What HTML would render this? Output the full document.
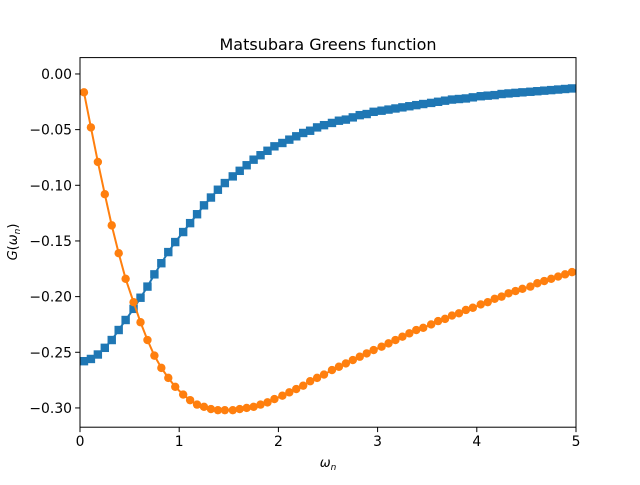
<!DOCTYPE html>
<html><head><meta charset="utf-8"><style>
body{margin:0;background:#fff}
svg text{font-family:"DejaVu Sans","Liberation Sans",sans-serif;fill:#000}
</style></head><body>
<svg id="chart" width="640" height="480" xmlns="http://www.w3.org/2000/svg">
<rect width="640" height="480" fill="#fff"/>
<text x="328" y="50" font-size="16" text-anchor="middle">Matsubara Greens function</text>
<g id="plot"></g>
<g id="axes"></g>
<text x="328" y="467" font-size="13" text-anchor="middle" font-style="italic">ω<tspan font-size="9" dy="3">n</tspan></text>
<text transform="translate(17,242) rotate(-90)" font-size="13" text-anchor="middle"><tspan font-style="italic">G</tspan>(<tspan font-style="italic">ω</tspan><tspan font-size="9" dy="3" font-style="italic">n</tspan><tspan dy="-3">)</tspan></text>
</svg>
<script>
const omega=[0.04,0.11,0.18,0.25,0.32,0.39,0.46,0.54,0.61,0.68,0.75,0.82,0.89,0.96,1.04,1.11,1.18,1.25,1.32,1.39,1.46,1.54,1.61,1.68,1.75,1.82,1.89,1.96,2.04,2.11,2.18,2.25,2.32,2.39,2.46,2.54,2.61,2.68,2.75,2.82,2.89,2.96,3.04,3.11,3.18,3.25,3.32,3.39,3.46,3.54,3.61,3.68,3.75,3.82,3.89,3.96,4.04,4.11,4.18,4.25,4.32,4.39,4.46,4.54,4.61,4.68,4.75,4.82,4.89,4.96];
const realPart=[-0.258,-0.256,-0.252,-0.246,-0.239,-0.230,-0.221,-0.211,-0.201,-0.191,-0.180,-0.170,-0.160,-0.151,-0.142,-0.134,-0.126,-0.118,-0.111,-0.104,-0.098,-0.092,-0.087,-0.082,-0.077,-0.073,-0.069,-0.065,-0.062,-0.059,-0.056,-0.053,-0.051,-0.048,-0.046,-0.044,-0.042,-0.041,-0.039,-0.037,-0.036,-0.034,-0.033,-0.032,-0.031,-0.030,-0.029,-0.028,-0.027,-0.026,-0.025,-0.024,-0.023,-0.0225,-0.022,-0.021,-0.020,-0.0195,-0.019,-0.018,-0.0175,-0.017,-0.0165,-0.016,-0.0155,-0.015,-0.0145,-0.014,-0.0135,-0.013];
const imagPart=[-0.0165,-0.048,-0.079,-0.108,-0.136,-0.161,-0.184,-0.205,-0.223,-0.239,-0.253,-0.264,-0.273,-0.281,-0.288,-0.293,-0.297,-0.299,-0.301,-0.302,-0.302,-0.302,-0.301,-0.300,-0.299,-0.297,-0.295,-0.292,-0.289,-0.286,-0.283,-0.280,-0.276,-0.273,-0.270,-0.266,-0.263,-0.260,-0.257,-0.254,-0.251,-0.248,-0.245,-0.242,-0.239,-0.236,-0.233,-0.230,-0.228,-0.225,-0.222,-0.220,-0.217,-0.215,-0.212,-0.210,-0.207,-0.205,-0.202,-0.200,-0.197,-0.195,-0.193,-0.191,-0.188,-0.186,-0.184,-0.182,-0.180,-0.178];
const xTicks=[0,1,2,3,4,5];
const yTicks=[0,-0.05,-0.10,-0.15,-0.20,-0.25,-0.30];
const yTickLabels=["0.00","−0.05","−0.10","−0.15","−0.20","−0.25","−0.30"];

const L=80,R=576,T=57.6,B=427.2,xmin=0,xmax=5,ymin=-0.3173,ymax=0.0147;
const sx=v=>L+(v-xmin)/(xmax-xmin)*(R-L);
const sy=v=>B-(v-ymin)/(ymax-ymin)*(B-T);
const NS="http://www.w3.org/2000/svg";
const plot=document.getElementById('plot'),axes=document.getElementById('axes');
function mk(tag,attrs,parent){const e=document.createElementNS(NS,tag);for(const k in attrs)e.setAttribute(k,attrs[k]);parent.appendChild(e);return e;}

const clip=mk('clipPath',{id:'clip'},plot);mk('rect',{x:L,y:T,width:R-L,height:B-T},clip);
const g=mk('g',{'clip-path':'url(#clip)'},plot);

let d=omega.map((w,i)=>(i?'L':'M')+sx(w).toFixed(2)+','+sy(realPart[i]).toFixed(2)).join('');
const bl=mk('path',{d:d,fill:'none',stroke:'#1f77b4','stroke-width':2},g);


omega.forEach((w,i)=>{
  const m=mk('rect',{x:sx(w)-4.2,y:sy(realPart[i])-4.2,width:8.4,height:8.4,fill:'#1f77b4'},g);
  
  
});
d=omega.map((w,i)=>(i?'L':'M')+sx(w).toFixed(2)+','+sy(imagPart[i]).toFixed(2)).join('');
const ol=mk('path',{d:d,fill:'none',stroke:'#ff7f0e','stroke-width':2},g);


omega.forEach((w,i)=>{
  const m=mk('circle',{cx:sx(w),cy:sy(imagPart[i]),r:4.2,fill:'#ff7f0e'},g);
  
  
});

const fr=mk('rect',{x:L,y:T,width:R-L,height:B-T,fill:'none',stroke:'#000','stroke-width':1},axes);


xTicks.forEach(t=>{
  const x=sx(t);
  const tk=mk('line',{x1:x,x2:x,y1:B,y2:B+4.9,stroke:'#000','stroke-width':1},axes);
  
  
  const tx=mk('text',{x:x,y:B+19,'font-size':13.9,'text-anchor':'middle'},axes);
  tx.textContent=String(t);
  
  
});
yTicks.forEach((t,i)=>{
  const y=sy(t);
  const tk=mk('line',{x1:L-4.9,x2:L,y1:y,y2:y,stroke:'#000','stroke-width':1},axes);
  
  
  const tx=mk('text',{x:L-8,y:y+5,'font-size':13.9,'text-anchor':'end'},axes);
  tx.textContent=yTickLabels[i];
  
  
});
</script>
</body></html>
